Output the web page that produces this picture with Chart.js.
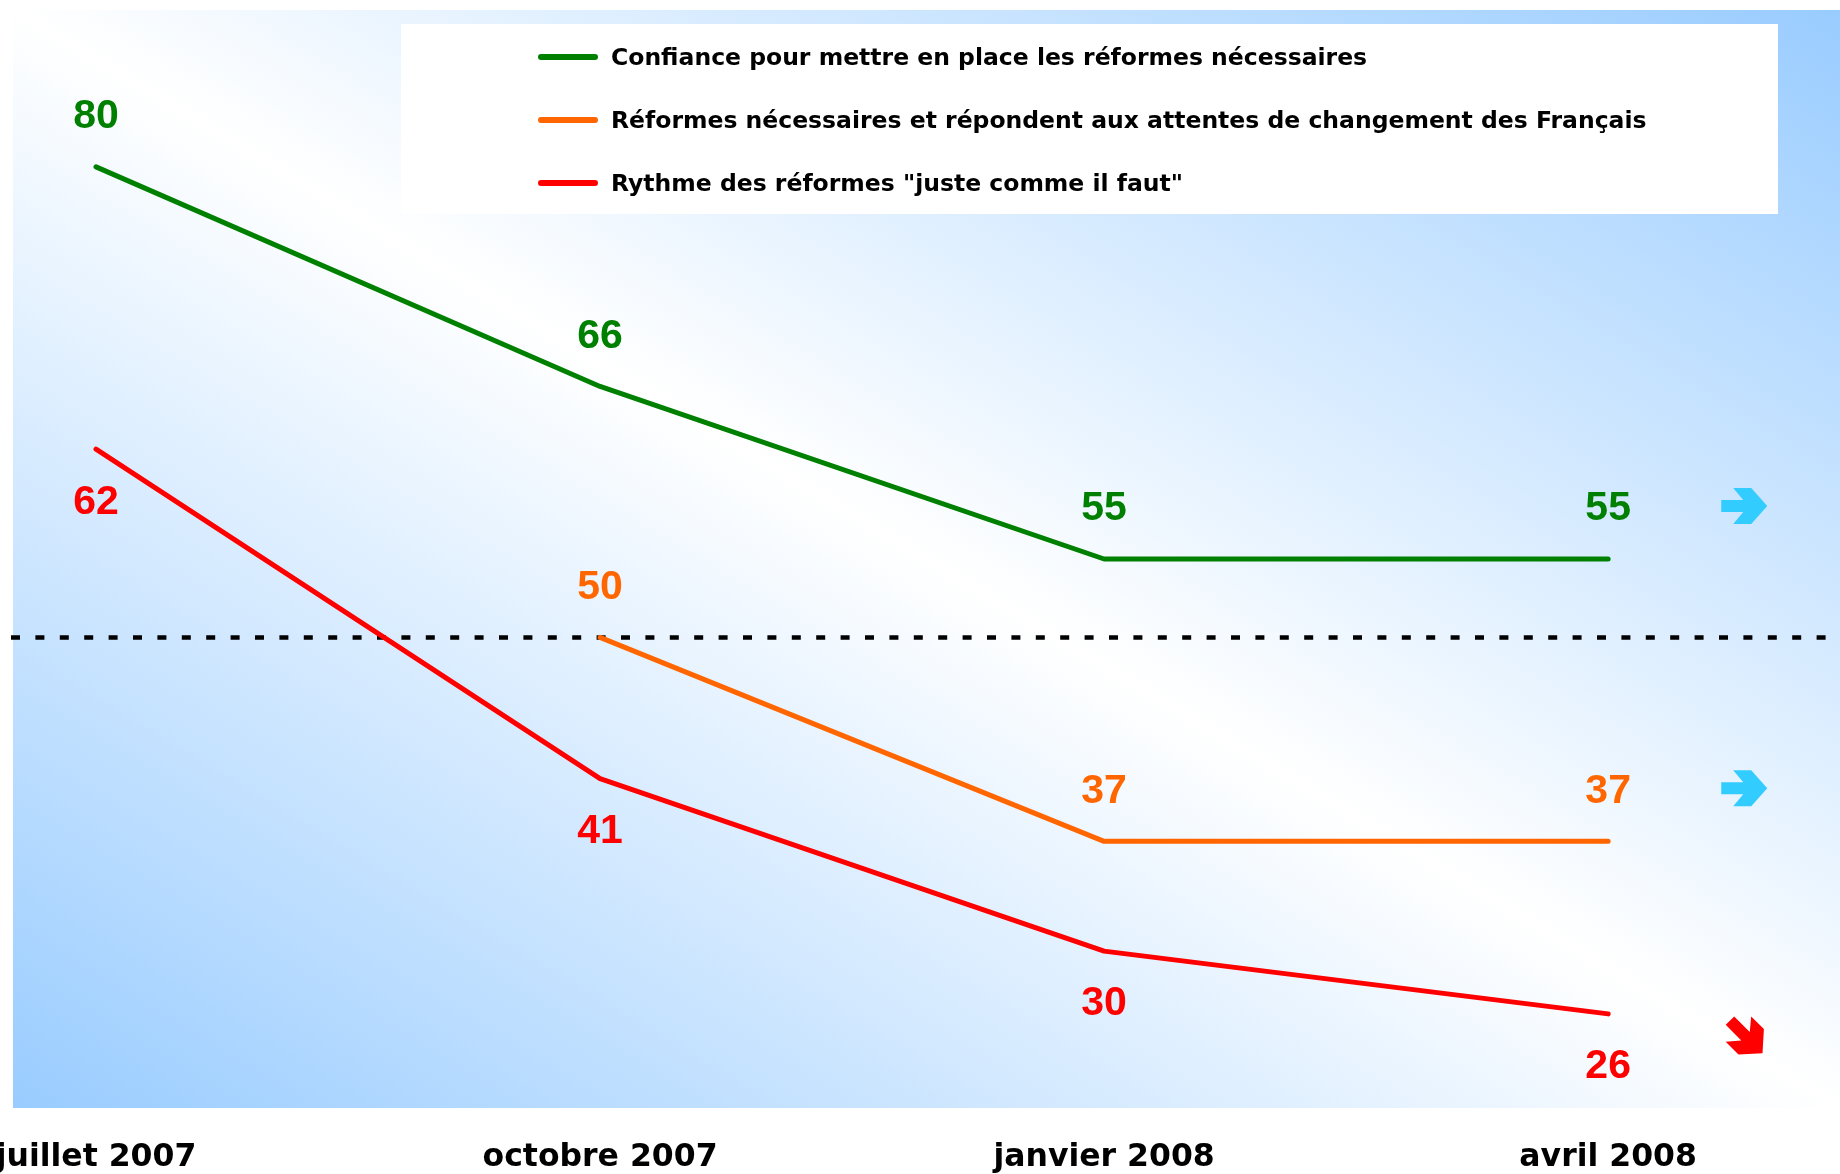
<!DOCTYPE html>
<html>
<head>
<meta charset="utf-8">
<title>Réformes</title>
<script src="https://cdn.jsdelivr.net/npm/chart.js@4/dist/chart.umd.min.js"></script>
<style>
body { margin: 0; background: #fff; }
#wrap { width: 1840px; height: 1174px; }
</style>
</head>
<body>
<div id="wrap"><canvas id="myChart"></canvas></div>
<script>
// valeurs
var categories = ['juillet 2007', 'octobre 2007', 'janvier 2008', 'avril 2008'];
var confiance = [80, 66, 55, 55];
var attentes = [null, 50, 37, 37];
var rythme = [62, 41, 30, 26];
var seriesNames = [
    'Confiance pour mettre en place les réformes nécessaires',
    'Réformes nécessaires et répondent aux attentes de changement des Français',
    'Rythme des réformes "juste comme il faut"'
];
var trends = ['stable', 'stable', 'baisse'];
var seuil = 50;

function toPoints(vals) {
    return vals.map(function (v, i) { return { x: i, y: v }; });
}

function arrowPath(ctx) {
    var p = [[-23, -6], [-1, -6], [-11, -18], [7, -18], [23, 0], [7, 18], [-11, 18], [-1, 6], [-23, 6]];
    ctx.beginPath();
    ctx.moveTo(p[0][0], p[0][1]);
    for (var i = 1; i < p.length; i++) ctx.lineTo(p[i][0], p[i][1]);
    ctx.closePath();
}

var decor = {
    id: 'decor',
    beforeDraw: function (chart) {
        var a = chart.chartArea, ctx = chart.ctx;
        ctx.save();
        ctx.translate(a.left, a.top);
        ctx.scale(a.right - a.left, a.bottom - a.top);
        var g = ctx.createLinearGradient(0, 1, 1, 0);
        g.addColorStop(0, '#99ccff');
        g.addColorStop(0.5, '#ffffff');
        g.addColorStop(1, '#99ccff');
        ctx.fillStyle = g;
        ctx.fillRect(0, 0, 1, 1);
        ctx.restore();
    },
    beforeDatasetsDraw: function (chart) {
        var a = chart.chartArea, ctx = chart.ctx;
        var y = chart.scales.y.getPixelForValue(seuil);
        ctx.save();
        ctx.strokeStyle = '#000';
        ctx.lineWidth = 4.5;
        ctx.setLineDash([9, 15.4]);
        ctx.beginPath();
        ctx.moveTo(a.left - 2, y);
        ctx.lineTo(a.right, y);
        ctx.stroke();
        ctx.restore();
    },
    afterDatasetsDraw: function (chart) {
        var ctx = chart.ctx, xs = chart.scales.x;
        ctx.save();
        ctx.font = 'bold 41px "Liberation Sans", Arial, sans-serif';
        ctx.textAlign = 'center';
        ctx.textBaseline = 'middle';
        chart.data.datasets.forEach(function (ds, di) {
            var meta = chart.getDatasetMeta(di);
            ctx.fillStyle = ds.borderColor;
            var off = ds.labelSide === 'below' ? 53 : -50;
            meta.data.forEach(function (pt, i) {
                if (ds.data[i].y === null) return;
                ctx.fillText(String(ds.data[i].y), pt.x, pt.y + off);
            });
            // flèche de tendance
            var last = meta.data[meta.data.length - 1];
            var ax = xs.getPixelForValue(3.27);
            ctx.save();
            if (trends[di] === 'baisse') {
                ctx.translate(ax + 2, last.y + 23);
                ctx.rotate(Math.PI / 4);
                ctx.fillStyle = '#ff0000';
            } else {
                ctx.translate(ax, last.y - 53);
                ctx.fillStyle = '#33ccff';
            }
            arrowPath(ctx);
            ctx.fill();
            ctx.restore();
        });
        ctx.restore();
    },
    afterDraw: function (chart) {
        var ctx = chart.ctx;
        ctx.save();
        ctx.fillStyle = '#ffffff';
        ctx.fillRect(401, 24, 1377, 190);
        ctx.font = 'bold 23.5px "DejaVu Sans", Verdana, sans-serif';
        ctx.textBaseline = 'middle';
        chart.data.datasets.forEach(function (ds, di) {
            var y = 57 + di * 63;
            ctx.strokeStyle = ds.borderColor;
            ctx.lineWidth = 6;
            ctx.lineCap = 'round';
            ctx.beginPath();
            ctx.moveTo(541, y);
            ctx.lineTo(595, y);
            ctx.stroke();
            ctx.fillStyle = '#000';
            ctx.fillText(ds.label, 611, y + 2);
        });
        ctx.restore();
    }
};

var ctx = document.getElementById('myChart').getContext('2d');
var myChart = new Chart(ctx, {
    type: 'line',
    data: {
        datasets: [{
            label: seriesNames[0],
            data: toPoints(confiance),
            borderColor: '#008000',
            labelSide: 'above'
        }, {
            label: seriesNames[1],
            data: toPoints(attentes),
            borderColor: '#ff6600',
            labelSide: 'above'
        }, {
            label: seriesNames[2],
            data: toPoints(rythme),
            borderColor: '#ff0000',
            labelSide: 'below'
        }]
    },
    options: {
        responsive: true,
        maintainAspectRatio: false,
        animation: false,
        layout: { padding: { left: 13, top: 10, right: 0, bottom: 1 } },
        elements: {
            line: { borderWidth: 5, borderCapStyle: 'round', borderJoinStyle: 'round', tension: 0 },
            point: { radius: 0, hoverRadius: 0 }
        },
        plugins: {
            legend: { display: false },
            tooltip: { enabled: false }
        },
        scales: {
            x: {
                type: 'linear',
                min: -0.1647,
                max: 3.46,
                grid: { display: false, drawTicks: false },
                border: { display: false },
                afterBuildTicks: function (axis) {
                    axis.ticks = categories.map(function (c, i) { return { value: i }; });
                },
                afterFit: function (axis) {
                    axis.paddingLeft = 0;
                    axis.paddingRight = 0;
                    axis.paddingTop = 0;
                    axis.paddingBottom = 0;
                    axis.height = 65;
                },
                ticks: {
                    autoSkip: false,
                    maxRotation: 0,
                    padding: 31,
                    color: '#000',
                    font: { family: '"DejaVu Sans", Verdana, sans-serif', size: 31.5, weight: 'bold' },
                    callback: function (v) { return categories[v]; }
                }
            },
            y: {
                display: false,
                min: 20,
                max: 90
            }
        }
    },
    plugins: [decor]
});
</script>
</body>
</html>
